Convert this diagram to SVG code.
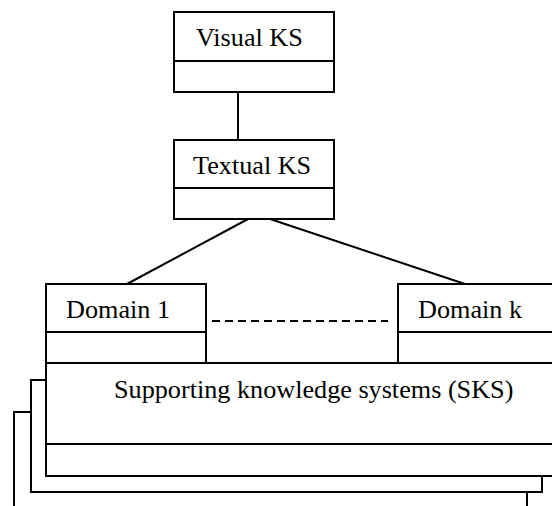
<svg xmlns="http://www.w3.org/2000/svg" width="552" height="506" viewBox="0 0 552 506">
<style>
.box{fill:#fff;stroke:#000;stroke-width:2}
.ln{fill:none;stroke:#000;stroke-width:2}
.dash{fill:none;stroke:#000;stroke-width:2;stroke-dasharray:8,5}
text{font-family:"Liberation Serif","Times New Roman",serif;font-size:26.2px;fill:#000}
</style>
<rect width="552" height="506" fill="#fff"/>
<g id="connectors">
<line class="ln" x1="238" y1="92" x2="238" y2="140"/>
<line class="ln" x1="248" y1="219" x2="127" y2="284"/>
<line class="ln" x1="270" y1="219" x2="465" y2="284"/>
<line class="dash" x1="212" y1="321" x2="388" y2="321"/>
</g>
<g id="visual-ks">
<rect class="box" x="174" y="12" width="160" height="80"/>
<line class="ln" x1="174" y1="61" x2="334" y2="61"/>
<text x="196" y="46">Visual KS</text>
</g>
<g id="textual-ks">
<rect class="box" x="174" y="140" width="160" height="79"/>
<line class="ln" x1="174" y1="188" x2="334" y2="188"/>
<text x="193" y="174">Textual KS</text>
</g>
<g id="sks-stack">
<path class="ln" d="M14 507 V412 H31"/>
<path class="ln" d="M527 507 V492"/>
<path class="ln" d="M31 412 V380 H46"/>
<path class="ln" d="M31 412 V492 H542 V476"/>
</g>
<g id="sks">
<rect class="box" x="46" y="363" width="510" height="113"/>
<line class="ln" x1="46" y1="444" x2="553" y2="444"/>
<text x="114" y="398">Supporting knowledge systems (SKS)</text>
</g>
<g id="domain-1">
<rect class="box" x="46" y="284" width="160" height="79"/>
<line class="ln" x1="46" y1="332" x2="206" y2="332"/>
<text x="66" y="318">Domain 1</text>
</g>
<g id="domain-k">
<rect class="box" x="398" y="284" width="160" height="79"/>
<line class="ln" x1="398" y1="332" x2="553" y2="332"/>
<text x="418" y="318">Domain k</text>
</g>
</svg>
